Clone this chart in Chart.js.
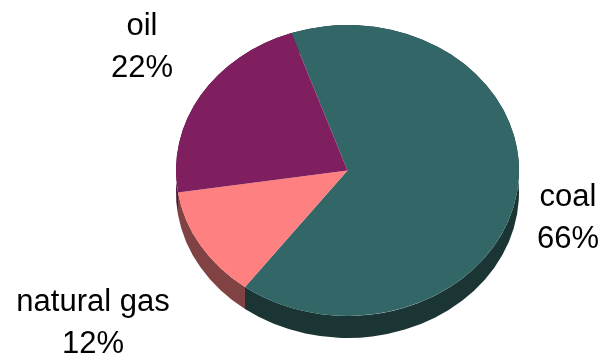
<!DOCTYPE html>
<html>
<head>
<meta charset="utf-8">
<script src="https://cdn.jsdelivr.net/npm/chart.js@4"></script>
<style>
  html, body { margin: 0; padding: 0; background: #fff; }
  #wrap { width: 600px; height: 356px; }
</style>
</head>
<body>
<div id="wrap"><canvas id="pieChart"></canvas></div>
<script>
// datos
const categorias = ['coal', 'natural gas', 'oil'];
const valores = [65.5, 12.4, 22.1];

const coloresTop = ['#336666', '#ff8080', '#7f1f5f'];
const coloresLado = ['#1b3434', '#804242', '#3f1030'];

// perspectiva: elipse y profundidad
const k = 0.848;
const prof = 22;
const centroY = 170.5;

const pie3d = {
  id: 'pie3d',
  beforeDatasetsDraw(chart) {
    const ctx = chart.ctx;
    const meta = chart.getDatasetMeta(0);
    const cy0 = meta.data[0].y;
    ctx.save();
    ctx.translate(0, centroY);
    ctx.scale(1, k);
    ctx.translate(0, -cy0);
    // lados
    meta.data.forEach((arc, i) => {
      const r = arc.outerRadius;
      const d = prof / k;
      ctx.beginPath();
      ctx.arc(arc.x, arc.y, r, arc.startAngle, arc.endAngle);
      ctx.arc(arc.x, arc.y + d, r, arc.endAngle, arc.startAngle, true);
      ctx.closePath();
      ctx.fillStyle = coloresLado[i];
      ctx.fill();
    });
  },
  afterDatasetsDraw(chart) {
    chart.ctx.restore();
  }
};

const textos = {
  id: 'textos',
  afterDraw(chart) {
    const ctx = chart.ctx;
    const total = valores.reduce((a, b) => a + b, 0);
    const pos = [[568, 206, 248], [93, 311, 353], [142, 35, 77]];
    ctx.save();
    ctx.fillStyle = '#000';
    ctx.font = '31px "Liberation Sans", Arial, sans-serif';
    ctx.textAlign = 'center';
    ctx.textBaseline = 'alphabetic';
    categorias.forEach((c, i) => {
      ctx.fillText(c, pos[i][0], pos[i][1]);
      ctx.fillText(Math.round(valores[i] / total * 100) + '%', pos[i][0], pos[i][2]);
    });
    ctx.restore();
  }
};

new Chart(document.getElementById('pieChart'), {
  type: 'pie',
  data: {
    labels: categorias,
    datasets: [{
      data: valores,
      backgroundColor: coloresTop,
      borderWidth: 0
    }]
  },
  options: {
    responsive: true,
    maintainAspectRatio: false,
    animation: false,
    rotation: -19.1,
    layout: { padding: { left: 176, right: 81, top: 6, bottom: 7 } },
    plugins: {
      legend: { display: false },
      tooltip: { enabled: false }
    }
  },
  plugins: [pie3d, textos]
});
</script>
</body>
</html>
